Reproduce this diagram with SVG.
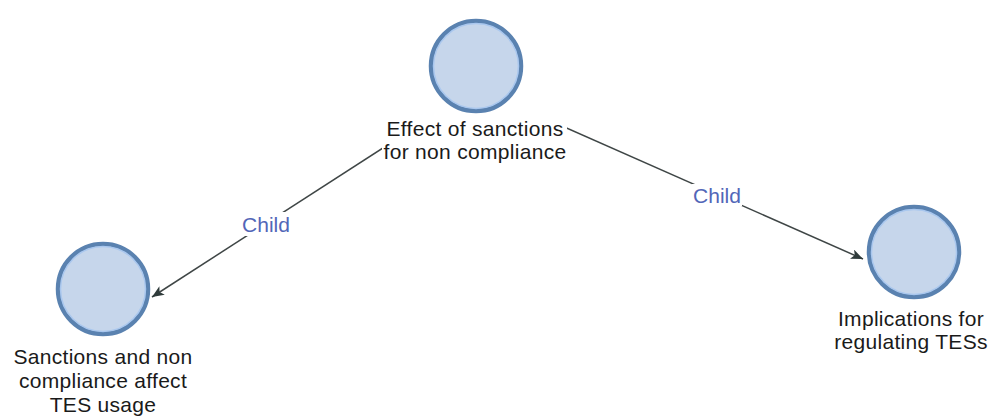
<svg xmlns="http://www.w3.org/2000/svg" width="999" height="419" viewBox="0 0 999 419">
<style>
.node{fill:#c6d6eb;stroke:#5a82b0;stroke-width:4.5}
.rim{fill:none;stroke:#a9c7ee;stroke-width:1.5}
.lbl{font-family:"Liberation Sans",Arial,sans-serif;font-size:21px;fill:#1a1a1a;text-anchor:middle;letter-spacing:0.3px}
.elbl{font-family:"Liberation Sans",Arial,sans-serif;font-size:21px;fill:#5266b8;text-anchor:middle}
.edge{stroke:#3f4646;stroke-width:1.5;fill:none}
.bg{fill:#ffffff}
</style>
<defs>
<marker id="arrow" viewBox="0 0 12 10" refX="12" refY="5" markerWidth="12" markerHeight="10" markerUnits="userSpaceOnUse" orient="auto">
<path d="M0,0 L12,5 L0,10 L3,5 Z" fill="#2f3b3b"/>
</marker>
</defs>
<rect width="999" height="419" fill="#ffffff"/>
<g id="connectors">
<line class="edge" x1="476" y1="88" x2="152" y2="297" marker-end="url(#arrow)"/>
<line class="edge" x1="476" y1="88" x2="863" y2="259" marker-end="url(#arrow)"/>
<rect class="bg" x="242" y="212" width="49" height="24"/>
<text class="elbl" x="266" y="232">Child</text>
<rect class="bg" x="692" y="184" width="50" height="22"/>
<text class="elbl" x="717" y="203">Child</text>
</g>
<g id="node-effect">
<rect class="bg" x="382" y="16" width="185" height="150"/>
<circle class="node" cx="476" cy="66" r="45"/>
<circle class="rim" cx="476" cy="66" r="42.5"/>
<text class="lbl" x="475" y="136">Effect of sanctions</text>
<text class="lbl" x="475" y="159">for non compliance</text>
</g>
<g id="node-sanctions">
<circle class="node" cx="103" cy="289" r="45"/>
<circle class="rim" cx="103" cy="289" r="42.5"/>
<text class="lbl" x="103" y="364">Sanctions and non</text>
<text class="lbl" x="103" y="388">compliance affect</text>
<text class="lbl" x="103" y="412">TES usage</text>
</g>
<g id="node-implications">
<circle class="node" cx="914" cy="252" r="45"/>
<circle class="rim" cx="914" cy="252" r="42.5"/>
<text class="lbl" x="911" y="326">Implications for</text>
<text class="lbl" x="911" y="349">regulating TESs</text>
</g>
</svg>
